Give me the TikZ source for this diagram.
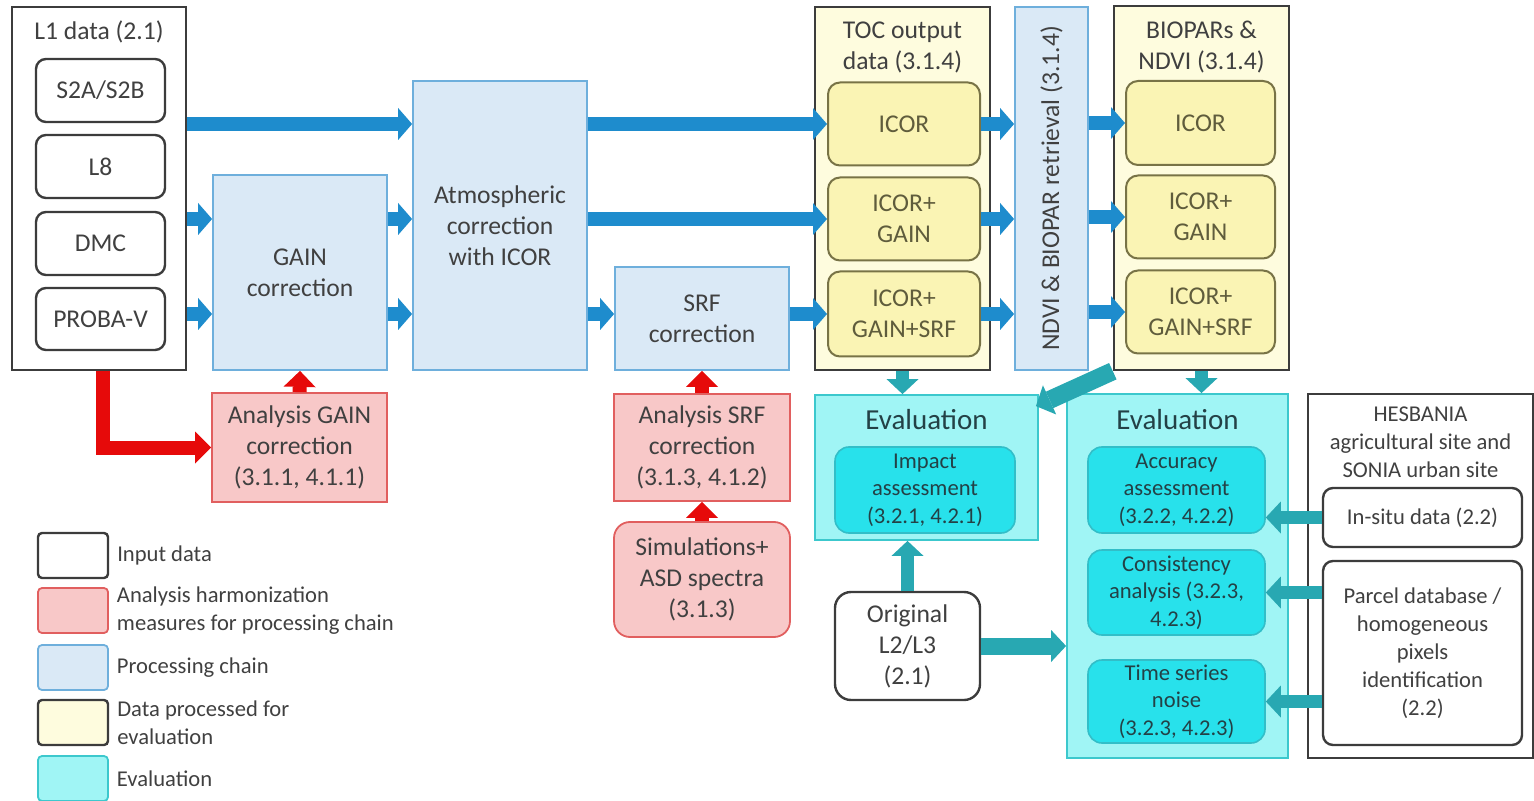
\documentclass[tikz,border=0pt]{standalone}
\usepackage{fontspec}
\setmainfont{Carlito}
\usetikzlibrary{arrows.meta,positioning}

\definecolor{inkgray}{RGB}{64,64,64}
\definecolor{framegray}{RGB}{60,60,60}
\definecolor{anafill}{RGB}{248,200,200}
\definecolor{anadraw}{RGB}{225,95,95}
\definecolor{procfill}{RGB}{218,233,246}
\definecolor{procdraw}{RGB}{110,175,220}
\definecolor{yelout}{RGB}{254,252,222}
\definecolor{yelin}{RGB}{250,244,180}
\definecolor{yeldraw}{RGB}{120,115,70}
\definecolor{yeltext}{RGB}{95,92,60}
\definecolor{evout}{RGB}{160,245,245}
\definecolor{evdraw}{RGB}{60,200,205}
\definecolor{evin}{RGB}{40,225,235}
\definecolor{evindraw}{RGB}{50,190,200}
\definecolor{evtext}{RGB}{35,65,70}
\definecolor{arrblue}{RGB}{30,140,205}
\definecolor{arrred}{RGB}{230,10,10}
\definecolor{arrteal}{RGB}{40,168,178}

\begin{document}
\begin{tikzpicture}[x=0.5pt,y=-0.5pt,
  font=\fontsize{12.8}{15.5}\selectfont, text=inkgray,
  every node/.style={align=center},
  smalltext/.style={font=\fontsize{11.3}{14}\selectfont},
  inputbox/.style={rectangle,draw=framegray,line width=1.2pt,fill=white},
  inputitem/.style={rectangle,rounded corners=5pt,draw=framegray,line width=1.2pt,fill=white},
  procbox/.style={rectangle,draw=procdraw,line width=0.9pt,fill=procfill},
  anabox/.style={rectangle,draw=anadraw,line width=0.9pt,fill=anafill},
  outframe/.style={rectangle,draw=framegray,line width=1.2pt,fill=yelout},
  outitem/.style={rectangle,rounded corners=6pt,draw=yeldraw,line width=1pt,fill=yelin,text=yeltext},
  evalframe/.style={rectangle,draw=evdraw,line width=0.9pt,fill=evout},
  evaltitle/.style={font=\fontsize{14.5}{17}\selectfont,text=evtext},
  evalitem/.style={rectangle,rounded corners=7pt,draw=evindraw,line width=0.8pt,fill=evin,inner sep=0.5pt,font=\fontsize{11.3}{13.8}\selectfont,text=evtext},
  legbox/.style={rounded corners=2pt,minimum width=35pt,minimum height=22.5pt},
  legtext/.style={smalltext,align=left},
  bluearr/.style={draw=arrblue,line width=7pt,-{Triangle[width=16pt,length=7pt,line width=0pt]}},
  redarr/.style={draw=arrred,line width=7pt,-{Triangle[width=16pt,length=8pt,line width=0pt]}},
  tealarr/.style={draw=arrteal,line width=6.5pt,-{Triangle[width=16pt,length=7.5pt,line width=0pt]}}]
\useasboundingbox (0,0) rectangle (1534,801);

\node[inputbox,minimum width=87pt,minimum height=181.5pt] (l1) at (99,188.5) {};
\node (l1t) at (99,32) {L1 data (2.1)};
\node[inputitem,minimum width=64.5pt,minimum height=31.5pt] (s2) at (100.5,90.5) {S2A/S2B};
\node[inputitem,minimum width=64.5pt,minimum height=31.5pt] (l8) at (100.5,166.5) {L8};
\node[inputitem,minimum width=64.5pt,minimum height=31.5pt] (dmc) at (100.5,243.5) {DMC};
\node[inputitem,minimum width=64.5pt,minimum height=31pt] (pv) at (100.5,319) {PROBA-V};

\node[procbox,minimum width=87pt,minimum height=97.5pt] (gain) at (300,272.5) {GAIN\\correction};
\node[procbox,minimum width=87pt,minimum height=144.5pt] (atm) at (500,225.5) {Atmospheric\\correction\\with ICOR};
\node[procbox,minimum width=87pt,minimum height=51.5pt] (srf) at (702,318.5) {SRF\\correction};

\node[outframe,minimum width=87.5pt,minimum height=181.5pt] (toc) at (902.5,188.5) {};
\node (toct) at (902.5,47) {TOC output\\data (3.1.4)};
\node[outitem,minimum width=76pt,minimum height=41.5pt] (toc1) at (904,124) {ICOR};
\node[outitem,minimum width=76pt,minimum height=41.5pt] (toc2) at (904,219) {ICOR+\\GAIN};
\node[outitem,minimum width=76pt,minimum height=42.5pt] (toc3) at (904,314) {ICOR+\\GAIN+SRF};

\node[procbox,minimum width=36.5pt,minimum height=181.5pt] (ndvi) at (1051.5,188.5) {};
\node[rotate=90] (ndvit) at (ndvi.center) {NDVI \& BIOPAR retrieval (3.1.4)};

\node[outframe,minimum width=87.5pt,minimum height=182pt] (bio) at (1201.5,188) {};
\node (biot) at (1201.5,47) {BIOPARs \&\\NDVI (3.1.4)};
\node[outitem,minimum width=74.5pt,minimum height=42pt] (bio1) at (1200.5,123) {ICOR};
\node[outitem,minimum width=74.5pt,minimum height=41.5pt] (bio2) at (1200.5,217) {ICOR+\\GAIN};
\node[outitem,minimum width=74.5pt,minimum height=41.5pt] (bio3) at (1200.5,312) {ICOR+\\GAIN+SRF};

\node[anabox,minimum width=87.5pt,minimum height=54.5pt] (agc) at (299.5,447.5) {Analysis GAIN\\correction\\(3.1.1, 4.1.1)};
\node[anabox,minimum width=88pt,minimum height=53.5pt] (asrf) at (702,447.5) {Analysis SRF\\correction\\(3.1.3, 4.1.2)};
\node[anabox,rounded corners=8pt,minimum width=88pt,minimum height=57.5pt] (sim) at (702,579.5) {Simulations+\\ASD spectra\\(3.1.3)};

\node[evalframe,minimum width=111.5pt,minimum height=72.5pt] (ev1) at (926.5,467.5) {};
\node[evaltitle] (ev1t) at (926.5,420) {Evaluation};
\node[evalitem,minimum width=90pt,minimum height=43pt] (imp) at (925,490) {Impact\\assessment\\(3.2.1, 4.2.1)};
\node[inputitem,rounded corners=8pt,minimum width=72.5pt,minimum height=54pt] (orig) at (907.5,646) {Original\\L2/L3\\(2.1)};

\node[evalframe,minimum width=110.5pt,minimum height=182pt] (ev2) at (1177.5,576) {};
\node[evaltitle] (ev2t) at (1177.5,420) {Evaluation};
\node[evalitem,minimum width=88.5pt,minimum height=43pt] (acc) at (1176.5,490) {Accuracy\\assessment\\(3.2.2, 4.2.2)};
\node[evalitem,minimum width=88.5pt,minimum height=42.5pt] (con) at (1176.5,592.5) {Consistency\\analysis (3.2.3,\\4.2.3)};
\node[evalitem,minimum width=88.5pt,minimum height=41.5pt] (tsn) at (1176.5,701.5) {Time series\\noise\\(3.2.3, 4.2.3)};

\node[inputbox,minimum width=112.5pt,minimum height=182pt] (hes) at (1420.5,576) {};
\node[smalltext] (hest) at (1420.5,442) {HESBANIA\\agricultural site and\\SONIA urban site};
\node[inputitem,smalltext,minimum width=99.5pt,minimum height=29.5pt] (ins) at (1422.5,517.5) {In-situ data (2.2)};
\node[inputitem,smalltext,minimum width=99.5pt,minimum height=92pt] (par) at (1422.5,653) {Parcel database /\\homogeneous\\pixels\\identification\\(2.2)};

\node[inputbox,legbox] (lg1) at (73,555.5) {};
\node[legtext,right=0.5pt of lg1] (lg1t) {Input data};
\node[anabox,legbox] (lg2) at (73,610.5) {};
\node[legtext,right=0.5pt of lg2] (lg2t) {Analysis harmonization\\measures for processing chain};
\node[procbox,legbox] (lg3) at (73,667.5) {};
\node[legtext,right=0.5pt of lg3] (lg3t) {Processing chain};
\node[outframe,legbox] (lg4) at (73,722.5) {};
\node[legtext,right=0.5pt of lg4] (lg4t) {Data processed for\\evaluation};
\node[evalframe,legbox] (lg5) at (73,778.5) {};
\node[legtext,right=0.5pt of lg5] (lg5t) {Evaluation};

\draw[bluearr] (l1.east |- toc1) -- (atm.west |- toc1);
\draw[bluearr] (l1.east |- toc2) -- (gain.west |- toc2);
\draw[bluearr] (l1.east |- toc3) -- (gain.west |- toc3);
\draw[bluearr] (gain.east |- toc2) -- (atm.west |- toc2);
\draw[bluearr] (gain.east |- toc3) -- (atm.west |- toc3);
\draw[bluearr] (atm.east |- toc1) -- (toc1.west);
\draw[bluearr] (atm.east |- toc2) -- (toc2.west);
\draw[bluearr] (atm.east |- toc3) -- (srf.west |- toc3);
\draw[bluearr] (srf.east |- toc3) -- (toc3.west);
\draw[bluearr] (toc1.east) -- (ndvi.west |- toc1);
\draw[bluearr] (toc2.east) -- (ndvi.west |- toc2);
\draw[bluearr] (toc3.east) -- (ndvi.west |- toc3);
\draw[bluearr] (ndvi.east |- bio1) -- (bio1.west);
\draw[bluearr] (ndvi.east |- bio2) -- (bio2.west);
\draw[bluearr] (ndvi.east |- bio3) -- (bio3.west);

\draw[redarr] ([xshift=2pt]l1.south) |- (agc.west);
\draw[redarr] (agc.north) -- (gain.south);
\draw[redarr] (asrf.north) -- (srf.south);
\draw[redarr] (sim.north) -- (asrf.south);

\draw[tealarr] (toc.south) -- (toc.south |- ev1.north);
\draw[tealarr] (bio.south) -- (bio.south |- ev2.north);
\draw[tealarr,line width=9pt] (bio.south west) -- ([shift={(-3,12)}]ev1.north east);
\draw[tealarr] (orig.north) -- (orig.north |- ev1.south);
\draw[tealarr,line width=8.5pt] (orig.east) -- (orig.east -| ev2.west);
\draw[tealarr] (ins.west) -- (ins.west -| acc.east);
\draw[tealarr] (par.west |- con) -- (con.east);
\draw[tealarr] (par.west |- tsn) -- (tsn.east);
\end{tikzpicture}
\end{document}
